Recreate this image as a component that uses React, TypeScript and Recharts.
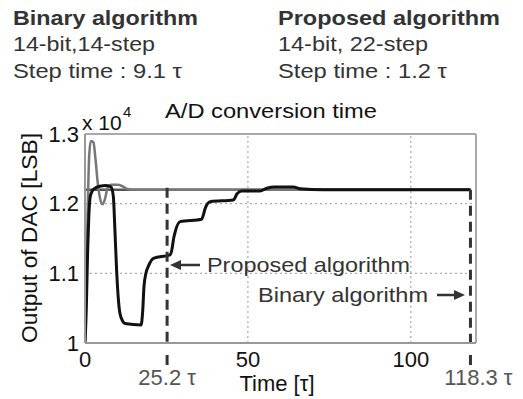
import { LineChart, Line, XAxis, YAxis, ReferenceLine } from 'recharts';

// time [tau] and DAC output [LSB]
const binaryTime = [0, 0.6, 1.3, 1.8, 2.6, 3.2, 3.9, 4.6, 5.4, 6.2, 7.0, 8.0, 10.0, 11.5, 13.0, 14.5, 118.3];
const binaryValue = [10000, 11400, 12700, 12900, 12880, 12650, 12300, 12080, 11990, 12080, 12240, 12270, 12270, 12250, 12210, 12200, 12200];

const proposedTime = [
  0, 0.4, 0.8, 1.2, 1.6, 2.2, 3.0, 4.5, 6.5, 8.0, 8.7, 9.2, 9.7, 10.2, 10.7, 11.5, 12.3, 17.2, 17.7, 18.1, 18.7,
  19.4, 21.0, 26.1, 26.7, 27.2, 27.7, 29.2, 35.8, 36.4, 36.9, 38.4, 45.5, 46.1, 46.6, 48.1, 53.7, 55.8, 58, 64, 66,
  73, 118.3,
];
const proposedValue = [
  10000, 10500, 11300, 11850, 12100, 12180, 12220, 12250, 12260, 12240, 12100, 11600, 11050, 10650, 10430, 10320,
  10280, 10259, 10450, 10809, 11000, 11096, 11216, 11264, 11350, 11500, 11600, 11742, 11776, 11850, 11934, 12029,
  12053, 12090, 12139, 12182, 12182, 12221, 12240, 12240, 12215, 12200, 12200,
];

const finalValue = 12200;
const markTimes = [25.2, 118.3];

const xTicks = [0, 25.2, 50, 100, 118.3];
const xTickLabels = ['0', '25.2 τ', '50', '100', '118.3 τ'];
const yTicks = [10000, 11000, 12000, 13000];
const yTickLabels = ['1', '1.1', '1.2', '1.3'];

const binaryData = binaryTime.map((t, i) => ({ t, y: binaryValue[i] }));
const proposedData = proposedTime.map((t, i) => ({ t, y: proposedValue[i] }));

const FONT = '"Liberation Sans", Arial, sans-serif';

function XTick({ x, y, payload }: any) {
  const idx = xTicks.indexOf(payload.value);
  const label = xTickLabels[idx];
  if (markTimes.includes(payload.value)) {
    return (
      <g>
        <line x1={x} x2={x} y1={y + 12} y2={y + 22} stroke="#333" strokeWidth={3} />
        <text x={x + (payload.value > 100 ? 8 : 0)} y={y + 42} textAnchor="middle" fill="#555" fontSize={22} fontFamily={FONT}>
          {label}
        </text>
      </g>
    );
  }
  return (
    <text x={x} y={y + 24} textAnchor="middle" fill="#111" fontSize={22} fontFamily={FONT}>
      {label}
    </text>
  );
}

export default function App() {
  return (
    <div style={{ position: 'absolute', left: 0, top: 0, width: 523, height: 399, background: '#fff' }}>
      <LineChart width={523} height={399} margin={{ top: 134, right: 47, bottom: 0, left: 25 }}>
        <XAxis
          type="number"
          dataKey="t"
          domain={[0, 120]}
          ticks={xTicks}
          tick={<XTick />}
          tickLine={false}
          tickSize={0}
          tickMargin={0}
          height={56}
          axisLine={{ stroke: '#999', strokeWidth: 2 }}
          allowDataOverflow
        />
        <YAxis
          type="number"
          domain={[10000, 13000]}
          ticks={yTicks}
          tickFormatter={(v: number) => yTickLabels[yTicks.indexOf(v)]}
          tick={{ fill: '#111', fontSize: 22, fontFamily: FONT }}
          tickLine={false}
          tickSize={0}
          tickMargin={6}
          width={60}
          axisLine={{ stroke: '#999', strokeWidth: 2 }}
          allowDataOverflow
        />
        <ReferenceLine y={11000} stroke="#999" strokeDasharray="2 3" />
        <ReferenceLine y={12000} stroke="#999" strokeDasharray="2 3" />
        <ReferenceLine x={50} stroke="#999" strokeDasharray="2 3" />
        <ReferenceLine x={100} stroke="#999" strokeDasharray="2 3" />
        <ReferenceLine y={13000} stroke="#aaa" strokeWidth={2} />
        <ReferenceLine x={120} stroke="#aaa" strokeWidth={2} />
        <ReferenceLine
          segment={[{ x: 0, y: finalValue }, { x: 118.3, y: finalValue }]}
          stroke="#555"
          strokeWidth={2.5}
        />
        <Line
          data={binaryData}
          dataKey="y"
          type="monotone"
          stroke="#777"
          strokeWidth={2.5}
          dot={false}
          isAnimationActive={false}
        />
        <Line
          data={proposedData}
          dataKey="y"
          type="monotone"
          stroke="#111"
          strokeWidth={3}
          dot={false}
          isAnimationActive={false}
        />
        {markTimes.map((t) => (
          <ReferenceLine
            key={t}
            segment={[{ x: t, y: t < 100 ? 12230 : finalValue }, { x: t, y: 10000 }]}
            stroke="#333"
            strokeWidth={3}
            strokeDasharray="10 6"
          />
        ))}
      </LineChart>
      <svg
        width={523}
        height={399}
        style={{ position: 'absolute', left: 0, top: 0, pointerEvents: 'none' }}
        fontFamily={FONT}
      >
        <g fill="#333" fontSize={21}>
          <text x={13} y={25} fontWeight="bold" textLength={185} lengthAdjust="spacingAndGlyphs">Binary algorithm</text>
          <text x={13} y={51} textLength={142} lengthAdjust="spacingAndGlyphs">14-bit,14-step</text>
          <text x={13} y={78} textLength={169} lengthAdjust="spacingAndGlyphs">Step time : 9.1 τ</text>
          <text x={278} y={25} fontWeight="bold" textLength={222} lengthAdjust="spacingAndGlyphs">Proposed algorithm</text>
          <text x={278} y={51} textLength={150} lengthAdjust="spacingAndGlyphs">14-bit, 22-step</text>
          <text x={278} y={78} textLength={169} lengthAdjust="spacingAndGlyphs">Step time : 1.2 τ</text>
        </g>
        <text x={165} y={118} fill="#111" fontSize={21} textLength={212} lengthAdjust="spacingAndGlyphs">A/D conversion time</text>
        <text x={82} y={130} fill="#111" fontSize={21}>x 10</text>
        <text x={123} y={117} fill="#111" fontSize={15}>4</text>
        <text
          transform="translate(37, 238) rotate(-90)"
          textAnchor="middle"
          fill="#111"
          fontSize={22}
          textLength={210}
          lengthAdjust="spacingAndGlyphs"
        >
          Output of DAC [LSB]
        </text>
        <text x={277} y={391} textAnchor="middle" fill="#111" fontSize={22}>Time [τ]</text>
        <g fill="#333" stroke="none">
          <text x={207} y={272} fontSize={21} textLength={203} lengthAdjust="spacingAndGlyphs">Proposed algorithm</text>
          <text x={258} y={302} fontSize={21} textLength={170} lengthAdjust="spacingAndGlyphs">Binary algorithm</text>
          <polygon points="170,265 181,260 181,270" />
          <polygon points="465,295 454,290 454,300" />
        </g>
        <line x1={180} x2={200} y1={265} y2={265} stroke="#333" strokeWidth={2.5} />
        <line x1={437} x2={455} y1={295} y2={295} stroke="#333" strokeWidth={2.5} />
      </svg>
    </div>
  );
}
